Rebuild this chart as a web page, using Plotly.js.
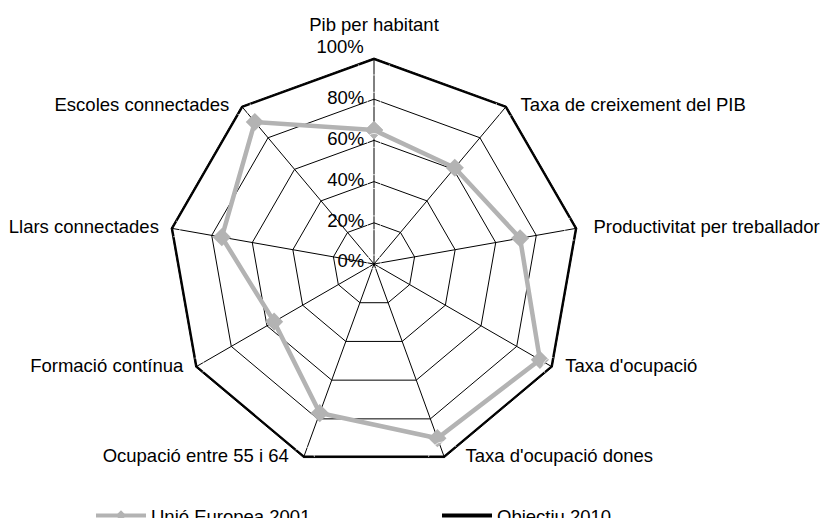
<!DOCTYPE html>
<html>
<head>
<meta charset="utf-8">
<script src="https://cdn.plot.ly/plotly-3.0.1.min.js"></script>
<style>
  html, body { margin: 0; padding: 0; background: #fff; }
  #chart { width: 824px; height: 518px; }
</style>
</head>
<body>
<div id="chart"></div>
<script>
const categories = [
    "Pib per habitant",
    "Taxa de creixement del PIB",
    "Productivitat per treballador",
    "Taxa d'ocupació",
    "Taxa d'ocupació dones",
    "Ocupació entre 55 i 64",
    "Formació contínua",
    "Llars connectades",
    "Escoles connectades"
];
const ue2001 = [65, 61, 72, 93, 90, 77, 56, 75, 90];
const objectiu2010 = [100, 100, 100, 100, 100, 100, 100, 100, 100];
const radialTicks = [0, 20, 40, 60, 80, 100];
const radialLabels = ["0%", "20%", "40%", "60%", "80%", "100%"];

// category labels sit beside the outer vertices, like the Excel original
const labelPos = ["top center", "middle right", "middle right", "middle right", "middle right",
                  "middle left", "middle left", "middle left", "middle left"];
const labelGap = [34, 21, 25, 19, 32, 22, 18, 18, 18];
// % labels left of the vertical spoke, the top one lifted above the vertex
const tickPos = ["middle left", "middle left", "middle left", "middle left", "middle left", "top left"];
const tickGap = [14, 14, 14, 14, 14, 0];

// close the polygons
function closed(arr) { return arr.concat([arr[0]]); }

const traces = [
    {
        type: "scatterpolar",
        r: closed(objectiu2010),
        theta: closed(categories),
        mode: "lines",
        name: "Objectiu 2010",
        line: { color: "#000000", width: 4 },
        cliponaxis: false
    },
    {
        type: "scatterpolar",
        r: closed(ue2001),
        theta: closed(categories),
        mode: "lines+markers",
        name: "Unió Europea 2001",
        showlegend: false,
        line: { color: "#b3b3b3", width: 4.5 },
        marker: { symbol: "diamond", size: 14, color: "#b3b3b3" },
        cliponaxis: false
    },
    // legend entry only (smaller diamond like the original key)
    {
        type: "scatterpolar",
        r: [null],
        theta: [categories[0]],
        mode: "lines+markers",
        name: "Unió Europea 2001",
        line: { color: "#b3b3b3", width: 4 },
        marker: { symbol: "diamond", size: 8, color: "#b3b3b3" }
    },
    // category labels
    {
        type: "scatterpolar",
        r: objectiu2010,
        theta: categories,
        mode: "markers+text",
        text: categories,
        textposition: labelPos,
        textfont: { size: 18.5, color: "#000" },
        marker: { size: labelGap, color: "rgba(0,0,0,0)" },
        showlegend: false,
        hoverinfo: "skip",
        cliponaxis: false
    },
    // radial tick labels (the centre one nudged off r=0, which plotly drops;
    // top one padded so it clears the spoke)
    {
        type: "scatterpolar",
        r: radialTicks.map(v => Math.max(v, 1)),
        theta: radialTicks.map(() => categories[0]),
        mode: "markers+text",
        text: radialLabels.map((t, i) => i === radialLabels.length - 1 ? t + "\u00a0\u00a0" : t),
        textposition: tickPos,
        textfont: { size: 18.5, color: "#000" },
        marker: { size: tickGap, color: "rgba(0,0,0,0)" },
        showlegend: false,
        hoverinfo: "skip",
        cliponaxis: false
    }
];

const W = 824, H = 518;
const cx = 374, cy = 264, R = 206;

Plotly.newPlot("chart", traces, {
    width: W,
    height: H,
    // legend sits on the bottom edge; don't let it shrink the plot
    margin: { l: 0, r: 0, t: 0, b: 0, autoexpand: false },
    paper_bgcolor: "#fff",
    font: { family: "Liberation Sans, Arial, sans-serif", size: 14, color: "#000" },
    showlegend: true,
    legend: {
        orientation: "h",
        x: 91 / W, xanchor: "left",
        y: 1 - 516 / H, yanchor: "middle",
        traceorder: "reversed",
        itemwidth: 50,
        entrywidth: 281,
        font: { size: 18.5 }
    },
    polar: {
        domain: {
            x: [(cx - R) / W, (cx + R) / W],
            y: [1 - (cy + R) / H, 1 - (cy - R) / H]
        },
        gridshape: "linear",
        bgcolor: "#fff",
        radialaxis: {
            range: [0, 100],
            tickvals: radialTicks,
            angle: 90,
            showline: false,
            showticklabels: false,
            ticks: "",
            gridcolor: "#000",
            gridwidth: 1
        },
        angularaxis: {
            direction: "clockwise",
            rotation: 90,
            gridcolor: "#000",
            gridwidth: 1,
            linecolor: "#000",
            linewidth: 1,
            ticks: "",
            showticklabels: false
        }
    }
}, { displayModeBar: false });
</script>
</body>
</html>
